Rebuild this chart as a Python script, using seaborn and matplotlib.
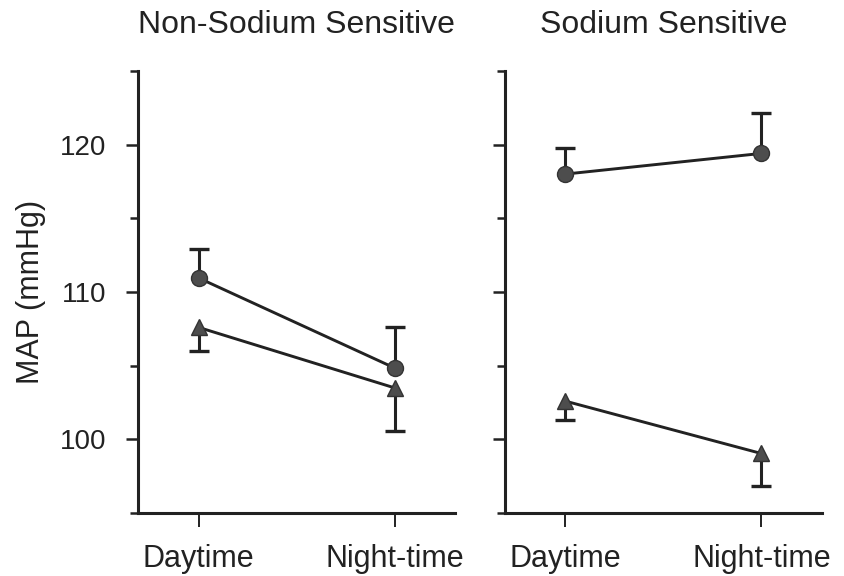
import numpy as np
import pandas as pd
import seaborn as sns
import matplotlib.pyplot as plt
from matplotlib.ticker import MultipleLocator

# dane
times = ["Daytime", "Night-time"]
panels = ["Non-Sodium Sensitive", "Sodium Sensitive"]

nss_circle = [110.95, 104.85]
nss_circle_err = [1.95, 2.75]
nss_tri = [107.6, 103.5]
nss_tri_err = [1.6, 2.95]

ss_circle = [118.0, 119.4]
ss_circle_err = [1.75, 2.75]
ss_tri = [102.6, 99.05]
ss_tri_err = [1.3, 2.2]

rows = []
for panel, grp, vals, errs, side in [
    (panels[0], "circle", nss_circle, nss_circle_err, 1),
    (panels[0], "triangle", nss_tri, nss_tri_err, -1),
    (panels[1], "circle", ss_circle, ss_circle_err, 1),
    (panels[1], "triangle", ss_tri, ss_tri_err, -1),
]:
    for i, t in enumerate(times):
        rows.append({"panel": panel, "group": grp, "x": i, "time": t,
                     "MAP": vals[i], "err": errs[i], "side": side})
df = pd.DataFrame(rows)
# koniec slupka bledu (jednostronny)
df["end"] = df["MAP"] + df["side"] * df["err"]

sns.set_theme(style="ticks")
plt.rcParams['font.family'] = ['Liberation Sans', 'DejaVu Sans']
ink = "#222222"
plt.rcParams['text.color'] = ink
plt.rcParams['axes.labelcolor'] = ink
plt.rcParams['xtick.color'] = ink
plt.rcParams['ytick.color'] = ink

fig = plt.figure(figsize=(8.44, 5.76), dpi=100)
ax1 = fig.add_axes([0.1635, 0.109, 0.376, 0.768])
ax2 = fig.add_axes([0.598, 0.109, 0.376, 0.768])

for ax, panel in zip([ax1, ax2], panels):
    sub = df[df["panel"] == panel]
    # pionowe kreski + kapturek tylko na koncu
    ax.vlines(sub["x"], sub["MAP"], sub["end"], color=ink, linewidth=2.2, zorder=2)
    ax.plot(sub["x"], sub["end"], linestyle="none", marker="_", markersize=14,
            markeredgewidth=2.4, color=ink, zorder=2)
    sns.lineplot(data=sub, x="x", y="MAP", style="group", markers={"circle": "o", "triangle": "^"},
                 dashes=False, color=ink, linewidth=2.1, markersize=11.5,
                 markerfacecolor="#4d4d4d", markeredgecolor="#333333", markeredgewidth=1,
                 legend=False, ax=ax, zorder=3)
    ax.set_xlim(-0.31, 1.31)
    ax.set_ylim(95, 125)
    ax.set_xticks([0, 1])
    ax.set_xticklabels(times, fontsize=22)
    ax.yaxis.set_major_locator(MultipleLocator(10))
    ax.yaxis.set_minor_locator(MultipleLocator(5))
    ax.set_title(panel, fontsize=23, pad=27)
    ax.set_xlabel("")
    sns.despine(ax=ax)
    for sp in ["left", "bottom"]:
        ax.spines[sp].set_linewidth(2.2)
        ax.spines[sp].set_color(ink)
    ax.tick_params(axis="y", which="major", length=9, width=1.8, labelsize=20, pad=14)
    ax.tick_params(axis="y", which="minor", length=6, width=1.8)
    ax.tick_params(axis="x", length=10, width=1.4, pad=12)

ax1.set_ylabel("MAP (mmHg)", fontsize=22, labelpad=10)
ax2.set_ylabel("")
ax2.set_yticklabels([])

plt.savefig("out.png", dpi=100)
